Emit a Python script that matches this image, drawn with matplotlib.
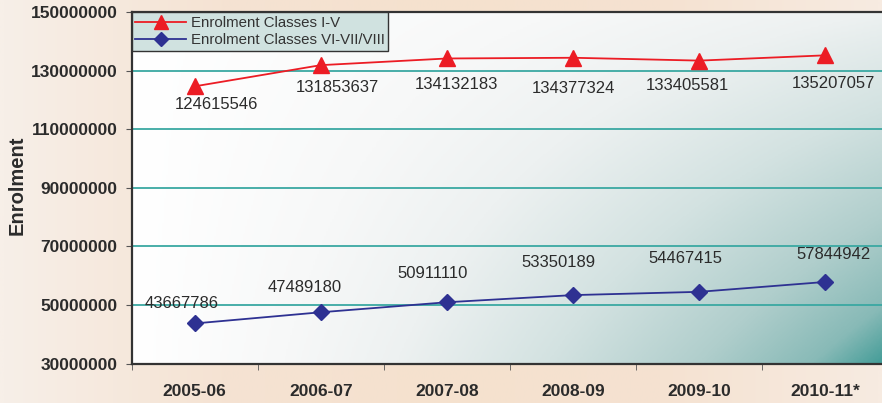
import numpy as np
import matplotlib.pyplot as plt
from matplotlib.colors import LinearSegmentedColormap

# --- data ---
years = ['2005-06', '2006-07', '2007-08', '2008-09', '2009-10', '2010-11*']
primary = [124615546, 131853637, 134132183, 134377324, 133405581, 135207057]
upper_primary = [43667786, 47489180, 50911110, 53350189, 54467415, 57844942]

# label offsets in pixels (dx, dy), as placed in the original
primary_off = [(22, -18), (17, -22), (10, -26), (0, -31), (-12, -25), (8, -28)]
upper_off = [(-13, 20), (-16, 25), (-14, 29), (-15, 33), (-14, 33), (8, 27)]

RED = '#EC1C24'
BLUE = '#2E3192'
GRID = '#3AA8A2'
DARK = '#2B2B2B'

plt.rcParams['font.family'] = ['Liberation Sans', 'DejaVu Sans']

fig = plt.figure(figsize=(8.82, 4.03), dpi=100)

# peach page background
bg = fig.add_axes([0, 0, 1, 1], zorder=-10)
bg.axis('off')
gx = np.linspace(0, 1, 300)
peach = LinearSegmentedColormap.from_list(
    'peach', ['#F7EFE8', '#F5E3D3', '#F5E1CE', '#F5E2D1', '#F7EBE1'])
bg.imshow(gx[None, :], cmap=peach, aspect='auto', extent=[0, 1, 0, 1])

ax = fig.add_axes([131.5 / 882, 1 - 363.5 / 403, 757 / 882, (363.5 - 12) / 403])

# plot-area gradient: white upper-left to teal lower-right
nx, ny = 400, 200
xx, yy = np.meshgrid(np.linspace(0, 1, nx), np.linspace(1, 0, ny))
t = np.clip(0.35 * xx + 0.65 * (xx ** 0.9 * (1 - yy) ** 0.8) ** 1.1, 0, 1)
teal = LinearSegmentedColormap.from_list(
    'teal', [(0, '#FFFFFF'), (0.2, '#F7F8F8'), (0.35, '#EDF1F1'),
             (0.55, '#D3E2E1'), (0.75, '#B0CECC'), (0.9, '#88BAB7'),
             (1.0, '#3E9A95')])
ax.imshow(t, cmap=teal, aspect='auto', extent=[-0.5, 5.5, 30e6, 150e6],
          zorder=0, vmin=0, vmax=1, interpolation='bilinear')

x = np.arange(len(years))
ax.plot(x, primary, color=RED, lw=1.3, marker='^', ms=12, zorder=3,
        label='Enrolment Classes I-V')
ax.plot(x, upper_primary, color=BLUE, lw=1.3, marker='D', ms=8, zorder=3,
        label='Enrolment Classes VI-VII/VIII')

for xi, v, (dx, dy) in zip(x, primary, primary_off):
    ax.annotate(str(v), (xi, v), xytext=(dx, dy), textcoords='offset pixels',
                ha='center', va='center', fontsize=12, color=DARK, zorder=4)
for xi, v, (dx, dy) in zip(x, upper_primary, upper_off):
    ax.annotate(str(v), (xi, v), xytext=(dx, dy), textcoords='offset pixels',
                ha='center', va='center', fontsize=12, color=DARK, zorder=4)

ax.set_xlim(-0.5, 5.5)
ax.set_ylim(30e6, 150e6)
yt = np.arange(30e6, 150e6 + 1, 20e6)
ax.set_yticks(yt)
ax.set_yticklabels([f'{int(v)}' for v in yt], fontsize=12.5, fontweight='bold', color=DARK)
for v in yt[1:-1]:
    ax.axhline(v, color=GRID, lw=1.3, zorder=1)

ax.set_xticks(x)
ax.set_xticklabels(years, fontsize=12.5, fontweight='bold', color=DARK)
ax.set_xticks(np.arange(-0.5, 6, 1), minor=True)
ax.tick_params(axis='x', which='major', length=0, pad=15)
ax.tick_params(axis='x', which='minor', length=4, color='#555555', direction='out')
ax.tick_params(axis='y', length=4, color='#555555', pad=6)

for side in ['left', 'bottom', 'top']:
    ax.spines[side].set_color('#333333')
    ax.spines[side].set_linewidth(1.6)
ax.spines['right'].set_visible(False)

ax.set_ylabel('Enrolment', fontsize=14.5, fontweight='bold', color=DARK)
ax.yaxis.set_label_coords(-0.139, 0.508)

leg = ax.legend(loc='upper left', bbox_to_anchor=(0, 1), borderaxespad=0,
                fontsize=10.8, fancybox=False, framealpha=1, handlelength=3.4,
                borderpad=0.25, labelspacing=0.2, handletextpad=0.3,
                markerscale=0.85)
leg.get_frame().set_facecolor('#D0E2E0')
leg.get_frame().set_edgecolor('#333333')
leg.get_frame().set_linewidth(1.0)
for txt in leg.get_texts():
    txt.set_color('#333333')
leg.set_zorder(5)

fig.savefig('out.png', dpi=100)
